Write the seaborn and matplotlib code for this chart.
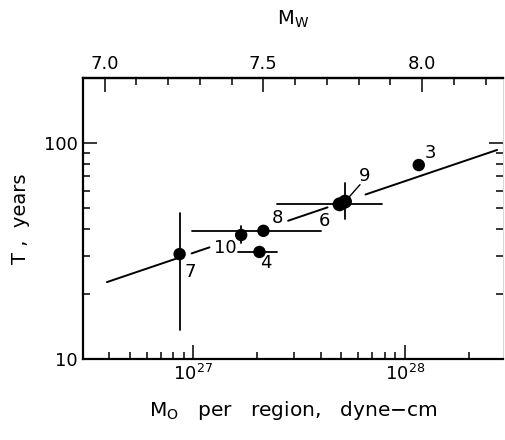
import numpy as np
import pandas as pd
import matplotlib
matplotlib.use("Agg")
import matplotlib.pyplot as plt
import seaborn as sns
from matplotlib.ticker import FixedLocator, NullFormatter

# ---- data ----
regions = ["7", "10", "4", "8", "6", "9", "3"]
m0 = [8.6e26, 1.68e27, 2.05e27, 2.14e27, 4.9e27, 5.2e27, 1.16e28]
T = [30.6, 37.5, 31.3, 39.2, 52.0, 53.5, 79.0]
# horizontal error bars (M0 range), nan = none
m0_lo = [np.nan, np.nan, 1.63e27, 0.98e27, 2.49e27, np.nan, np.nan]
m0_hi = [np.nan, np.nan, 2.49e27, 4.0e27, 7.77e27, np.nan, np.nan]
# vertical error bars (T range)
t_lo = [13.6, 34.4, np.nan, np.nan, np.nan, 44.5, np.nan]
t_hi = [47.4, 41.3, np.nan, np.nan, np.nan, 65.3, np.nan]
# label offsets (pixels)
lab_dx = [11, -16, 6, 14, -15, 20, 12]
lab_dy = [-18, -13, -11, 13, -17, 26, 12]

# fitted line: endpoints and visible pieces (M0 ranges)
fit_m0 = [3.9e26, 2.72e28]
fit_T = [22.7, 92.8]
seg_start = [3.9e26, 0.98e27, 2.8e27, 6.5e27]
seg_end = [8.6e26, 1.19e27, 4.3e27, 2.72e28]

df = pd.DataFrame({"region": regions, "M0": m0, "T": T})

sns.set_style("ticks")
plt.rcParams["font.family"] = ["DejaVu Sans"]
plt.rcParams["mathtext.fontset"] = "dejavusans"
for k in ["text.color", "axes.labelcolor", "xtick.color", "ytick.color",
          "xtick.labelcolor", "ytick.labelcolor"]:
    plt.rcParams[k] = "black"

fig = plt.figure(figsize=(5.05, 4.4), dpi=100)
ax = fig.add_axes([0.164, 0.184, 0.832, 0.639])
ax.set_xscale("log")
ax.set_yscale("log")
ax.set_xlim(3.0e26, 2.9e28)
ax.set_ylim(10, 200)

# fitted line in pieces
lx = np.log10(fit_m0)
ly = np.log10(fit_T)
for s, e in zip(seg_start, seg_end):
    xs = np.array([s, e])
    ys = 10 ** np.interp(np.log10(xs), lx, ly)
    sns.lineplot(x=xs, y=ys, ax=ax, color="black", lw=1.4, sort=False,
                 estimator=None)

# error bars
for i in range(len(regions)):
    if not np.isnan(m0_lo[i]):
        ax.plot([m0_lo[i], m0_hi[i]], [T[i], T[i]], color="black", lw=1.3)
    if not np.isnan(t_lo[i]):
        ax.plot([m0[i], m0[i]], [t_lo[i], t_hi[i]], color="black", lw=1.3)

sizes = [80, 80, 80, 80, 100, 100, 80]
sns.scatterplot(data=df, x="M0", y="T", ax=ax, color="black", s=sizes,
                edgecolor="black", linewidth=0, zorder=5, legend=False)

for i, r in enumerate(regions):
    ax.annotate(r, (m0[i], T[i]), xytext=(lab_dx[i], lab_dy[i]),
                textcoords="offset pixels", ha="center", va="center",
                fontsize=13, color="black")
# leader line for 9
ax.annotate("", (m0[5], T[5]), xytext=(15, 17), textcoords="offset pixels",
            arrowprops=dict(arrowstyle="-", color="black", lw=1.0,
                            shrinkA=0, shrinkB=4))

# ticks
ax.tick_params(which="both", direction="in", top=False, right=True,
               labelsize=13, width=1.1, colors="black")
ax.tick_params(which="major", length=10)
ax.tick_params(which="minor", length=5)
ax.set_yticks([10, 100])
ax.set_yticklabels(["10", "100"])
ax.yaxis.set_minor_locator(FixedLocator([20, 30, 40, 50, 60, 70, 80, 90, 200]))
ax.yaxis.set_minor_formatter(NullFormatter())
ax.set_xticks([1e27, 1e28])
ax.set_xticklabels([r"$10^{27}$", r"$10^{28}$"])
xmin = [k * 1e26 for k in range(4, 10)] + [k * 1e27 for k in range(2, 10)] + [2e28]
ax.xaxis.set_minor_locator(FixedLocator(xmin))
ax.xaxis.set_minor_formatter(NullFormatter())

for sp in ["left", "bottom", "top"]:
    ax.spines[sp].set_linewidth(1.6)
    ax.spines[sp].set_color("black")
ax.spines["right"].set_linewidth(0.8)
ax.spines["right"].set_color("#d8d8d8")

ax.set_xlabel(r"M$_\mathrm{O}$   per   region,   dyne$-$cm", fontsize=14.5,
              labelpad=11, color="black")
ax.set_ylabel("T ,  years", fontsize=14, labelpad=10, color="black")

# top Mw axis
def to_mw(x):
    x = np.asarray(x, dtype=float)
    with np.errstate(divide="ignore", invalid="ignore"):
        return (2.0 / 3.0) * (np.log10(np.where(x > 0, x, np.nan)) - 16.08)

def from_mw(m):
    return 10 ** (1.5 * np.asarray(m, dtype=float) + 16.08)

sec = ax.secondary_xaxis("top", functions=(to_mw, from_mw))
sec.set_xticks([7.0, 7.5, 8.0])
sec.set_xticklabels(["7.0", "7.5", "8.0"])
sec.xaxis.set_minor_locator(FixedLocator([6.9, 7.1, 7.2, 7.3, 7.4, 7.6, 7.7,
                                          7.8, 7.9, 8.1, 8.2]))
sec.xaxis.set_minor_formatter(NullFormatter())
sec.tick_params(which="both", direction="in", labelsize=13, width=1.1,
                colors="black")
sec.tick_params(which="major", length=10)
sec.tick_params(which="minor", length=5)
sec.spines["top"].set_linewidth(1.6)
sec.set_xlabel(r"M$_\mathrm{W}$", fontsize=14, labelpad=22, color="black")

fig.savefig("out.png", dpi=100)
